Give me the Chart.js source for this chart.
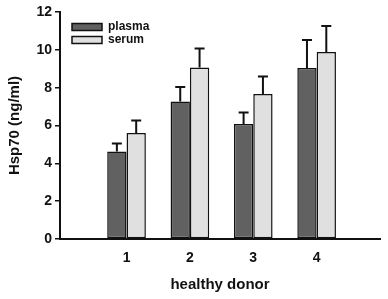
<!DOCTYPE html>
<html>
<head>
<meta charset="utf-8">
<script src="https://cdn.jsdelivr.net/npm/chart.js@4"></script>
<style>
  html, body { margin: 0; padding: 0; background: #fff; }
  #wrap { width: 388px; height: 299px; }
</style>
</head>
<body>
<div id="wrap"><canvas id="grafico"></canvas></div>
<script>
// datos
const donantes = [1, 2, 3, 4];
const plasma = [4.63, 7.27, 6.08, 9.04];
const plasmaErr = [0.42, 0.76, 0.61, 1.48];
const suero = [5.60, 9.07, 7.66, 9.88];
const sueroErr = [0.67, 1.0, 0.93, 1.38];
const ticksY = [0, 2, 4, 6, 8, 10, 12];

const puntos = arr => donantes.map((d, i) => ({ x: d, y: arr[i] }));

const fuente = '"Liberation Sans", Arial, sans-serif';

const barrasError = {
    id: 'barrasError',
    afterDatasetsDraw(chart) {
        const ctx = chart.ctx;
        const y = chart.scales.y;
        chart.data.datasets.forEach((ds, i) => {
            const meta = chart.getDatasetMeta(i);
            meta.data.forEach((bar, j) => {
                const v = ds.data[j].y;
                const e = ds.errores[j];
                const top = y.getPixelForValue(v);
                const cap = y.getPixelForValue(v + e);
                ctx.save();
                ctx.strokeStyle = '#111';
                ctx.lineWidth = 2;
                ctx.beginPath();
                ctx.moveTo(bar.x, top);
                ctx.lineTo(bar.x, cap);
                ctx.moveTo(bar.x - 5, cap);
                ctx.lineTo(bar.x + 5, cap);
                ctx.stroke();
                ctx.restore();
            });
        });
    }
};

const leyenda = {
    id: 'leyenda',
    afterDraw(chart) {
        const ctx = chart.ctx;
        const area = chart.chartArea;
        chart.data.datasets.forEach((ds, i) => {
            const x = area.left + 12;
            const yc = area.top + 15 + i * 13;
            ctx.save();
            ctx.fillStyle = ds.backgroundColor;
            ctx.strokeStyle = '#111';
            ctx.lineWidth = 1.5;
            ctx.fillRect(x, yc - 3.5, 30, 7);
            ctx.strokeRect(x, yc - 3.5, 30, 7);
            ctx.fillStyle = '#111';
            ctx.font = 'bold 12px ' + fuente;
            ctx.textBaseline = 'middle';
            ctx.fillText(ds.label, x + 36, yc);
            ctx.restore();
        });
    }
};

const ctx = document.getElementById('grafico').getContext('2d');
new Chart(ctx, {
    type: 'bar',
    data: {
        datasets: [
            {
                label: 'plasma',
                data: puntos(plasma),
                errores: plasmaErr,
                backgroundColor: '#616161',
                borderColor: '#111',
                borderWidth: 1.5,
                borderSkipped: false
            },
            {
                label: 'serum',
                data: puntos(suero),
                errores: sueroErr,
                backgroundColor: '#e0e0e0',
                borderColor: '#111',
                borderWidth: 1.5,
                borderSkipped: false
            }
        ]
    },
    options: {
        responsive: true,
        maintainAspectRatio: false,
        animation: false,
        categoryPercentage: 0.61,
        barPercentage: 1.0,
        layout: { padding: { top: 12, right: 8, left: 0, bottom: 0 } },
        plugins: {
            legend: { display: false },
            tooltip: { enabled: false }
        },
        scales: {
            x: {
                type: 'linear',
                min: -0.05,
                max: 5.0,
                offset: false,
                afterBuildTicks(scale) {
                    scale.ticks = donantes.map(v => ({ value: v }));
                },
                grid: { display: true, drawOnChartArea: false, drawTicks: false },
                border: { color: '#111', width: 2 },
                ticks: {
                    color: '#111',
                    padding: 11,
                    font: { family: fuente, size: 14, weight: 'bold' },
                    maxRotation: 0,
                    autoSkip: false
                },
                title: {
                    display: true,
                    text: 'healthy donor',
                    color: '#111',
                    font: { family: fuente, size: 15, weight: 'bold' },
                    padding: { top: 8, bottom: 5 }
                },
                afterFit(scale) { scale.height = 60; }
            },
            y: {
                min: 0,
                max: 12,
                afterBuildTicks(scale) {
                    scale.ticks = ticksY.map(v => ({ value: v }));
                },
                grid: { drawOnChartArea: false, drawTicks: true, tickLength: 5, color: '#111', lineWidth: 1.5 },
                border: { color: '#111', width: 2 },
                ticks: {
                    color: '#111',
                    padding: 3,
                    font: { family: fuente, size: 14, weight: 'bold' }
                },
                title: {
                    display: true,
                    text: 'Hsp70 (ng/ml)',
                    color: '#111',
                    font: { family: fuente, size: 15, weight: 'bold' },
                    padding: { top: 6, bottom: 0 }
                },
                afterFit(scale) { scale.width = 60; }
            }
        }
    },
    plugins: [barrasError, leyenda]
});
</script>
</body>
</html>
